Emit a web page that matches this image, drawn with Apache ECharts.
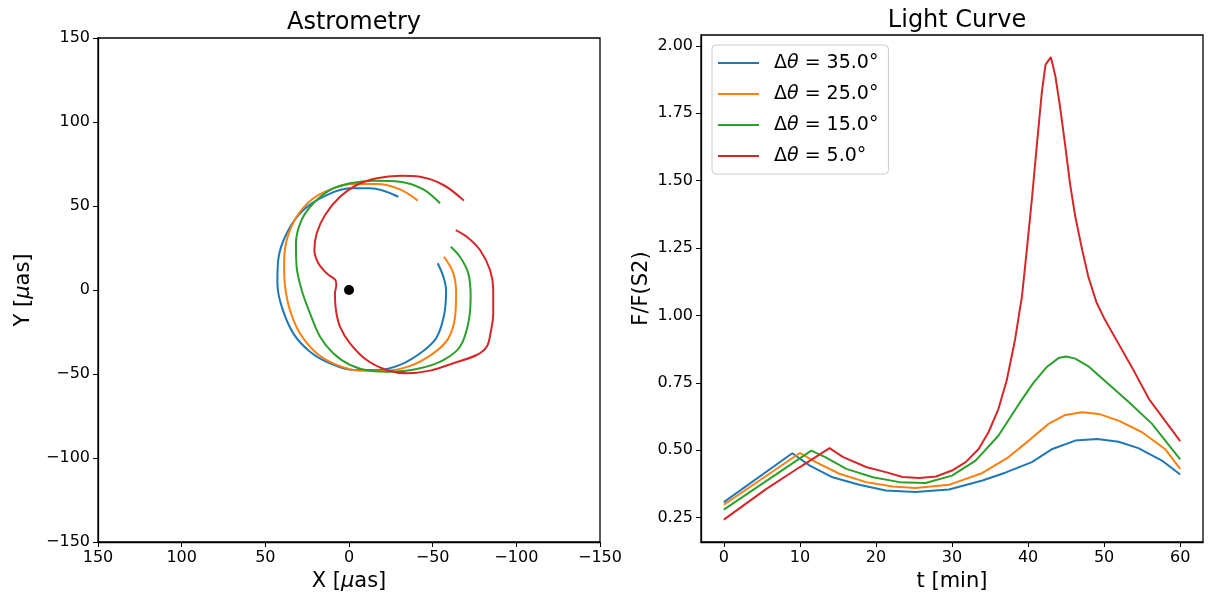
<!DOCTYPE html>
<html>
<head>
<meta charset="utf-8">
<script src="https://cdn.jsdelivr.net/npm/echarts@6/dist/echarts.min.js"></script>
<style>html,body{margin:0;padding:0;background:#fff;}#c{width:1208px;height:598px;}</style>
</head>
<body>
<div id="c"></div>
<script>
// ---- Data ----
const seriesNames = ['35.0', '25.0', '15.0', '5.0'];
const colors = ['#1f77b4', '#ff7f0e', '#2ca02c', '#d62728'];

// Astrometry tracks [X (µas), Y (µas)]
const astroBlue = [[-29.5,55.5],[-12.5,60.5],[-0.6,60.5],[13.3,56.5],[27.3,47.6],[37.2,33.8],[42.3,17.9],[42.8,4.0],[40.2,-9.9],[33.3,-25.8],[23.3,-36.7],[11.4,-43.6],[-2.6,-47.6],[-16.6,-47.6],[-30.5,-44.6],[-44.4,-36.3],[-52.5,-28.0],[-57.0,-14.0],[-58.0,0],[-56.4,7.9],[-53.0,15.9]];
const astroOrange = [[-41.1,53.2],[-30.5,59.9],[-16.6,63.1],[-2.6,63.1],[9.4,60.5],[21.3,54.6],[31.3,43.6],[37.2,29.8],[38.8,15.9],[38.2,2.0],[35.3,-11.9],[29.3,-25.8],[19.3,-37.7],[7.4,-44.6],[-6.6,-48.0],[-22.5,-48.0],[-36.5,-45.2],[-50.4,-37.7],[-59.4,-28.8],[-63.4,-15.9],[-64.0,-2.0],[-62.4,9.9],[-56.8,19.8]];
const astroGreen = [[-54.4,51.6],[-44.4,59.9],[-30.5,64.5],[-14.5,65.1],[-0.6,63.5],[11.4,59.5],[21.3,51.6],[28.3,41.7],[31.7,27.8],[31.3,13.9],[28.3,0],[23.3,-13.9],[17.3,-27.8],[9.4,-37.7],[-0.6,-44.6],[-12.5,-48.0],[-26.5,-48.6],[-42.4,-46.6],[-56.4,-41.7],[-66.3,-33.8],[-71.3,-19.8],[-72.7,-4.0],[-71.3,9.9],[-66.3,19.8],[-60.8,25.8]];
const astroRed = [[-68.7,53.2],[-56.4,62.5],[-42.4,67.4],[-30.5,68.0],[-16.6,66.5],[-4.6,62.5],[5.4,55.5],[14.3,44.6],[19.3,33.8],[20.7,23.8],[18.3,15.9],[13.3,9.9],[8.2,6.0],[7.6,3.0],[8.4,-2.0],[7.8,-11.9],[5.4,-21.8],[-0.6,-31.7],[-10.6,-41.7],[-22.5,-47.6],[-34.5,-49.6],[-48.4,-48.0],[-62.3,-43.6],[-76.3,-38.7],[-82.3,-33.8],[-84.6,-25.6],[-86.2,-13.9],[-86.2,0],[-84.3,11.9],[-78.3,23.8],[-70.4,31.7],[-63.8,35.7]];
const blackHole = [[0, 0]];

// Light curves [t (min), F/F(S2)]
const lcBlue = [[0,0.308],[9,0.489],[11.3,0.443],[14.3,0.40],[17.8,0.372],[21.3,0.351],[25.2,0.345],[29.6,0.355],[34,0.388],[37,0.417],[40.5,0.456],[43.2,0.505],[46.2,0.536],[49.1,0.542],[51.9,0.532],[54.5,0.508],[57.6,0.462],[60,0.41]];
const lcOrange = [[0,0.298],[10,0.49],[12.1,0.456],[15.2,0.413],[18.7,0.382],[22.2,0.366],[25.2,0.36],[29.6,0.372],[34,0.416],[37.4,0.474],[40.1,0.536],[42.7,0.598],[44.9,0.631],[47.1,0.641],[49.3,0.635],[51.9,0.61],[55,0.567],[58,0.505],[60,0.431]];
const lcGreen = [[0,0.28],[11.5,0.499],[13.4,0.474],[16.1,0.431],[19.6,0.4],[23.1,0.382],[26.5,0.379],[30,0.406],[33.1,0.462],[36.1,0.554],[38.8,0.672],[40.7,0.75],[42.5,0.81],[44,0.842],[45,0.848],[46.2,0.84],[48,0.81],[50.6,0.745],[53.2,0.68],[56.3,0.598],[60,0.466]];
const lcRed = [[0,0.243],[5.6,0.357],[10,0.438],[11.7,0.468],[13.9,0.508],[15.7,0.475],[18.7,0.438],[21.3,0.419],[23.5,0.401],[25.7,0.397],[27.9,0.403],[30,0.425],[31.8,0.456],[33.5,0.505],[34.8,0.567],[36.1,0.653],[37.2,0.76],[38.3,0.912],[39.2,1.072],[39.8,1.233],[40.5,1.43],[41.1,1.615],[41.8,1.825],[42.3,1.93],[43,1.958],[43.6,1.886],[44.2,1.775],[44.9,1.627],[45.5,1.492],[46.2,1.368],[47.1,1.245],[47.9,1.146],[49,1.048],[50,0.99],[52,0.89],[54,0.79],[55.9,0.69],[58,0.61],[60,0.534]];

const astroTicks = [-150, -100, -50, 0, 50, 100, 150];
const tTicks = [0, 10, 20, 30, 40, 50, 60];
const fTicks = [0.25, 0.5, 0.75, 1.0, 1.25, 1.5, 1.75, 2.0];

// ---- Chart ----
const FONT = 'DejaVu Sans';
const minus = v => String(v).replace('-', '\u2212');
const legendLabel = n => '{n|\u0394}{i|\u03b8}{n| = ' + n + '\u00b0}';

const astroSets = [astroBlue, astroOrange, astroGreen, astroRed];
const lcSets = [lcBlue, lcOrange, lcGreen, lcRed];

function axisCommon() {
  return {
    axisLine: { show: true, onZero: false, lineStyle: { color: '#000', width: 1.3 } },
    axisTick: { show: true, inside: false, length: 5, lineStyle: { color: '#000', width: 1 } },
    splitLine: { show: false },
    axisLabel: { color: '#000', fontFamily: FONT, fontSize: 16, margin: 8 },
    nameTextStyle: { color: '#000', fontFamily: FONT, fontSize: 21,
      rich: { i: { fontStyle: 'italic', fontFamily: FONT, fontSize: 21, color: '#000' } } }
  };
}

const series = [];
astroSets.forEach((d, k) => series.push({
  type: 'line', name: 'astro' + k, xAxisIndex: 0, yAxisIndex: 0, data: d,
  showSymbol: false, symbol: 'none', smooth: 0.35,
  lineStyle: { color: colors[k], width: 2 }, itemStyle: { color: colors[k] }
}));
series.push({ type: 'scatter', name: 'BH', xAxisIndex: 0, yAxisIndex: 0, data: blackHole,
  symbolSize: 10, itemStyle: { color: '#000', opacity: 1 }, z: 5 });
lcSets.forEach((d, k) => series.push({
  type: 'line', name: seriesNames[k], xAxisIndex: 1, yAxisIndex: 1, data: d,
  showSymbol: false, symbol: 'none', smooth: false,
  lineStyle: { color: colors[k], width: 2 }, itemStyle: { color: colors[k] }
}));

const chart = echarts.init(document.getElementById('c'), null, { renderer: 'canvas' });
chart.setOption({
  animation: false,
  backgroundColor: '#fff',
  textStyle: { fontFamily: FONT },
  title: [
    { text: 'Astrometry', left: 349, top: 6, textAlign: 'center',
      textStyle: { fontFamily: FONT, fontSize: 24, fontWeight: 'normal', color: '#000' } },
    { text: 'Light Curve', left: 952, top: 4, textAlign: 'center',
      textStyle: { fontFamily: FONT, fontSize: 24, fontWeight: 'normal', color: '#000' } }
  ],
  grid: [
    { left: 98, top: 38, width: 502, height: 504, show: true, borderColor: '#000', borderWidth: 1.3, backgroundColor: 'transparent' },
    { left: 701, top: 35, width: 502, height: 507, show: true, borderColor: '#000', borderWidth: 1.3, backgroundColor: 'transparent' }
  ],
  legend: {
    data: seriesNames,
    orient: 'vertical', left: 712, top: 45,
    padding: [7, 10, 7, 6],
    itemWidth: 41, itemHeight: 2, itemGap: 9,
    icon: 'rect',
    borderColor: '#cccccc', borderWidth: 1, borderRadius: 4,
    backgroundColor: 'rgba(255,255,255,0.8)',
    formatter: n => legendLabel(n),
    textStyle: { color: '#000', fontFamily: FONT, fontSize: 19, lineHeight: 22, padding: [0, 0, 0, 10],
      rich: {
        n: { fontFamily: FONT, fontSize: 19, color: '#000', lineHeight: 22 },
        i: { fontFamily: FONT, fontSize: 19, color: '#000', fontStyle: 'italic', lineHeight: 22 }
      } }
  },
  xAxis: [
    Object.assign(axisCommon(), {
      type: 'value', gridIndex: 0, inverse: true, min: -150, max: 150, interval: 50,
      name: 'X [{i|\u03bc}as]', nameLocation: 'middle', nameGap: 27,
      axisLabel: Object.assign(axisCommon().axisLabel, { formatter: v => minus(v), customValues: astroTicks }),
      axisTick: Object.assign(axisCommon().axisTick, { customValues: astroTicks })
    }),
    Object.assign(axisCommon(), {
      type: 'value', gridIndex: 1, min: -3, max: 63,
      name: 't [min]', nameLocation: 'middle', nameGap: 27,
      axisLabel: Object.assign(axisCommon().axisLabel, { customValues: tTicks, formatter: v => String(v) }),
      axisTick: Object.assign(axisCommon().axisTick, { customValues: tTicks })
    })
  ],
  yAxis: [
    Object.assign(axisCommon(), {
      type: 'value', gridIndex: 0, min: -150, max: 150, interval: 50,
      name: 'Y [{i|\u03bc}as]', nameLocation: 'middle', nameGap: 64,
      axisLabel: Object.assign(axisCommon().axisLabel, { formatter: v => minus(v), customValues: astroTicks }),
      axisTick: Object.assign(axisCommon().axisTick, { customValues: astroTicks })
    }),
    Object.assign(axisCommon(), {
      type: 'value', gridIndex: 1, min: 0.16, max: 2.04,
      name: 'F/F(S2)', nameLocation: 'middle', nameGap: 49,
      axisLabel: Object.assign(axisCommon().axisLabel, { customValues: fTicks, formatter: v => v.toFixed(2) }),
      axisTick: Object.assign(axisCommon().axisTick, { customValues: fTicks })
    })
  ],
  series: series
});
</script>
</body>
</html>
